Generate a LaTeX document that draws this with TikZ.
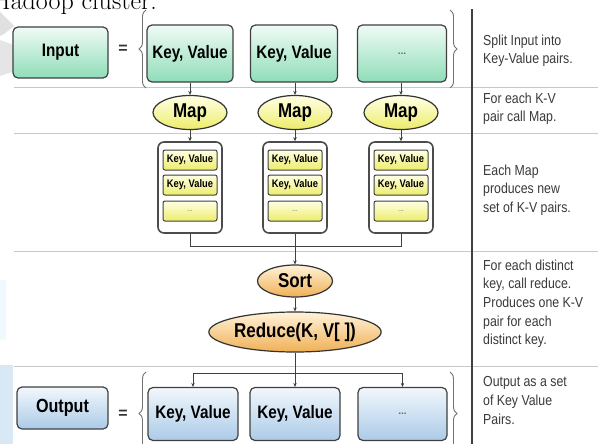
\documentclass[tikz,border=0pt]{standalone}
\usepackage{fontspec}
\setsansfont{Liberation Sans}
\newfontfamily\nar[FakeStretch=0.85]{Liberation Sans}
\usetikzlibrary{decorations.pathreplacing,arrows.meta,shapes.geometric}
\definecolor{gtop}{HTML}{F0FBF5}
\definecolor{gbot}{HTML}{8FDDB9}
\definecolor{btop}{HTML}{F2F7FC}
\definecolor{bbot}{HTML}{ABCBE8}
\definecolor{ytop}{HTML}{FFFFE6}
\definecolor{ybot}{HTML}{EDED6A}
\definecolor{otop}{HTML}{FFF3DA}
\definecolor{obot}{HTML}{F0B055}
\definecolor{sep}{HTML}{C8C8C8}
\definecolor{txt}{HTML}{3A3A3A}
\begin{document}
\begin{tikzpicture}[x=1pt,y=-1pt,
  boxbase/.style={draw=black!75,line width=1.2pt,rounded corners=5pt,inner sep=0pt,align=center},
  gbox/.style={boxbase,top color=gtop,bottom color=gbot},
  bbox/.style={boxbase,top color=btop,bottom color=bbot},
  bigtxt/.style={font=\nar\bfseries\fontsize{18}{18}\selectfont},
  mapell/.style={ellipse,draw=black!80,line width=1.2pt,top color=ytop,bottom color=ybot,inner sep=0pt,minimum width=74pt,minimum height=34pt,font=\nar\bfseries\fontsize{20}{20}\selectfont},
  oell/.style={ellipse,draw=black!80,line width=1.2pt,top color=otop,bottom color=obot,inner sep=0pt,font=\nar\bfseries\fontsize{20}{20}\selectfont},
  grp/.style={draw=black!70,line width=1.6pt,rounded corners=6pt,fill=white,minimum width=64pt,minimum height=91pt,inner sep=0pt},
  ibox/.style={draw=black!75,line width=1pt,rounded corners=2pt,top color=ytop,bottom color=ybot,minimum width=54pt,minimum height=20pt,inner sep=0pt,font=\nar\bfseries\fontsize{11}{11}\selectfont},
  conn/.style={draw=black!75,line width=0.9pt,-{Stealth[length=4pt,width=3.5pt]}},
  line/.style={draw=black!75,line width=0.9pt},
  seprule/.style={draw=sep,line width=0.8pt},
  brc/.style={draw=black!55,line width=0.9pt,decorate,decoration={brace,amplitude=7pt}},
  note/.style={anchor=north west,align=left,text=txt,font=\nar\fontsize{14.5}{18.7}\selectfont,inner sep=0pt},
  eqs/.style={font=\sffamily\bfseries\fontsize{16}{16}\selectfont,text=black!80}
]
\clip (0,0) rectangle (605,444);
\fill[white] (0,0) rectangle (605,444);
% faint background marks at the left edge
\fill[black!12] (0,12) -- (14,26) -- (4,34) -- (0,36) -- cycle;
\fill[black!10] (0,40) -- (16,46) -- (18,70) -- (0,76) -- cycle;
\fill[cyan!6] (0,280) rectangle (6,340);
\fill[bbot!45] (0,365) rectangle (13,444);
% cut-off caption at the top
\node[anchor=base east,inner sep=0pt,font=\fontsize{26}{26}\selectfont] (cap) at (157,10) {Hadoop cluster.};
% separators
\draw[seprule] (14,87) -- (598,87);
\draw[seprule] (14,133) -- (598,133);
\draw[seprule] (14,251) -- (598,251);
\draw[seprule] (14,366) -- (598,366);
\draw[black!75,line width=2pt] (472,9) -- (472,444);
% input row
\node[gbox,bigtxt,minimum width=95pt,minimum height=51pt] (input) at (60.5,52.5) {Input};
\node[eqs] (eq1) at (123,49) {=};
\draw[brc] (146,88) -- (146,10);
\draw[brc] (450,10) -- (450,88);
\node[gbox,bigtxt,minimum width=86pt,minimum height=57pt] (in1) at (190,53.5) {Key, Value};
\node[gbox,bigtxt,minimum width=87pt,minimum height=57pt] (in2) at (294,53.5) {Key, Value};
\node[gbox,minimum width=89pt,minimum height=57pt,font=\sffamily\bfseries\fontsize{10}{10}\selectfont,text=black!60] (in3) at (402,53.5) {...};
% map row
\node[mapell] (map1) at (190,112.5) {Map};
\node[mapell] (map2) at (295,112.5) {Map};
\node[mapell] (map3) at (401,112.5) {Map};
\draw[conn] (in1) -- (map1);
\draw[conn] (in2.south -| map2) -- (map2);
\draw[conn] (in3.south -| map3) -- (map3);
% groups
\foreach \i/\x in {1/190,2/295,3/401}{
  \node[grp] (g\i) at (\x,187.5) {};
  \node[ibox] (g\i a) at (\x,160) {Key, Value};
  \node[ibox] (g\i b) at (\x,185) {Key, Value};
  \node[ibox,font=\sffamily\fontsize{7}{7}\selectfont,text=black!60] (g\i c) at (\x,211) {...};
  \draw[conn] (map\i) -- (g\i);
}
\coordinate (j) at (295,246);
\draw[line] (g1.south) |- (j);
\draw[line] (g3.south) |- (j);
\draw[line] (g2.south) -- (j);
% sort and reduce
\node[oell,minimum width=75pt,minimum height=32pt] (sort) at (295,281) {Sort};
\node[oell,minimum width=135pt,minimum height=40pt] (reduce) at (295,332) {Reduce(K, V[ ])};
\draw[conn] (j) -- (sort);
\draw[conn] (sort) -- (reduce);
% output row
\node[bbox,bigtxt,font=\nar\bfseries\fontsize{19}{19}\selectfont,minimum width=91pt,minimum height=42pt] (output) at (62.5,408) {Output};
\node[eqs] (eq2) at (123,414) {=};
\draw[brc] (146,455) -- (146,372);
\draw[brc] (450,372) -- (450,455);
\node[bbox,bigtxt,minimum width=90pt,minimum height=53pt] (out1) at (193,414) {Key, Value};
\node[bbox,bigtxt,minimum width=90pt,minimum height=53pt] (out2) at (295,414) {Key, Value};
\node[bbox,minimum width=89pt,minimum height=53pt,font=\sffamily\bfseries\fontsize{10}{10}\selectfont,text=black!60] (out3) at (402.5,414) {...};
\coordinate (r) at (295,373);
\draw[line] (reduce) -- (r);
\draw[conn] (r) -| (out1.north);
\draw[conn] (r) -- (out2.north);
\draw[conn] (r) -| (out3.north);
% notes
\node[note] (n1) at (483,34.4) {Split Input into\\Key-Value pairs.};
\node[note] (n2) at (483,92.4) {For each K-V\\pair call Map.};
\node[note] (n3) at (483,164.4) {Each Map\\produces new\\set of K-V pairs.};
\node[note] (n4) at (483,259.4) {For each distinct\\key, call reduce.\\Produces one K-V\\pair for each\\distinct key.};
\node[note] (n5) at (483,376.4) {Output as a set\\of Key Value\\Pairs.};
\end{tikzpicture}
\end{document}
